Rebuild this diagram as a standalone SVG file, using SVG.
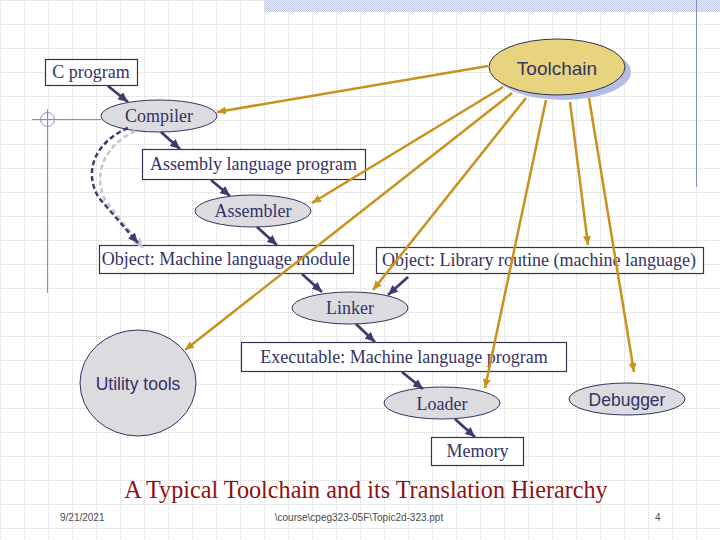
<svg xmlns="http://www.w3.org/2000/svg" width="720" height="540" viewBox="0 0 720 540">
<defs>
<pattern id="grid" width="24" height="24" patternUnits="userSpaceOnUse">
<path d="M0 0.5 H24 M0.5 0 V24" stroke="#d2d2d2" stroke-width="1" stroke-dasharray="1,1" fill="none"/>
</pattern>
<pattern id="check" width="2" height="2" patternUnits="userSpaceOnUse">
<rect width="2" height="2" fill="#eaedf6"/>
<rect width="1" height="1" fill="#c0cae4"/>
<rect x="1" y="1" width="1" height="1" fill="#c0cae4"/>
</pattern>
<marker id="an" markerUnits="userSpaceOnUse" markerWidth="12" markerHeight="10" refX="10" refY="4.5" orient="auto">
<path d="M0,0 L10,4.5 L0,9 z" fill="#3c3c70"/>
</marker>
<marker id="al" markerUnits="userSpaceOnUse" markerWidth="12" markerHeight="10" refX="10" refY="4.5" orient="auto">
<path d="M0,0 L10,4.5 L0,9 z" fill="#c2c6dc"/>
</marker>
<marker id="ag" markerUnits="userSpaceOnUse" markerWidth="11" markerHeight="10" refX="9" refY="4" orient="auto">
<path d="M0,0 L9,4 L0,8 z" fill="#c8921e"/>
</marker>
</defs>
<style>
.box{fill:#ffffff;stroke:#333355;stroke-width:1.2}
.ell{fill:#dcdce0;stroke:#333366;stroke-width:1}
.st{font-family:"Liberation Serif","Times New Roman",serif;font-size:18px;fill:#333366;text-anchor:middle}
.ss{font-family:"Liberation Sans",Arial,sans-serif;fill:#333366;text-anchor:middle}
.nv{stroke:#3c3c70;stroke-width:2.8;fill:none;marker-end:url(#an)}
.gd{stroke:#c8921e;stroke-width:2.5;fill:none;marker-end:url(#ag)}
.ft{font-family:"Liberation Sans",Arial,sans-serif;font-size:10px;fill:#4a4a4a}
.deco{stroke:#8090c0;stroke-width:1;fill:none}
</style>
<rect width="720" height="540" fill="#ffffff"/>
<rect width="720" height="540" fill="url(#grid)"/>
<rect x="264" y="0" width="456" height="12" fill="url(#check)"/>
<line class="deco" x1="696.5" y1="0" x2="696.5" y2="187"/>
<line class="deco" x1="32" y1="119.5" x2="101" y2="119.5"/>
<line class="deco" x1="47.5" y1="109" x2="47.5" y2="293"/>
<circle class="deco" cx="47.5" cy="119.5" r="7"/>

<g id="toolchain">
<ellipse cx="563" cy="72" rx="68" ry="28" fill="#b4bce8"/>
<ellipse cx="557" cy="67" rx="68" ry="28" fill="#e8d37e" stroke="#333344" stroke-width="1"/>
<text class="ss" x="557" y="75" font-size="19">Toolchain</text>
</g>
<g id="cprogram">
<rect class="box" x="45.5" y="59.5" width="92" height="26"/>
<text class="st" x="91" y="78">C program</text>
</g>
<g id="compiler">
<ellipse class="ell" cx="159" cy="116" rx="58" ry="16"/>
<text class="st" x="159" y="122">Compiler</text>
</g>
<g id="assembly">
<rect class="box" x="142.5" y="149.5" width="223" height="30"/>
<text class="st" x="253.5" y="170">Assembly language program</text>
</g>
<g id="assembler">
<ellipse class="ell" cx="253" cy="211" rx="58" ry="16"/>
<text class="st" x="253" y="217">Assembler</text>
</g>
<g id="objmodule">
<rect class="box" x="99.5" y="245.5" width="254" height="28"/>
<text class="st" x="226" y="265">Object: Machine language module</text>
</g>
<g id="objlibrary">
<rect class="box" x="376.5" y="247.5" width="327" height="26"/>
<text class="st" x="539" y="266">Object: Library routine (machine language)</text>
</g>
<g id="linker">
<ellipse class="ell" cx="350" cy="308" rx="58" ry="16"/>
<text class="st" x="350" y="314">Linker</text>
</g>
<g id="executable">
<rect class="box" x="241.5" y="342.5" width="325" height="29"/>
<text class="st" x="404" y="363">Executable: Machine language program</text>
</g>
<g id="utility">
<ellipse class="ell" cx="138" cy="383" rx="58" ry="53"/>
<text class="ss" x="138" y="390" font-size="17.5">Utility tools</text>
</g>
<g id="loader">
<ellipse class="ell" cx="442" cy="403" rx="58" ry="16"/>
<text class="st" x="442" y="410">Loader</text>
</g>
<g id="debugger">
<ellipse class="ell" cx="627" cy="399" rx="58" ry="16"/>
<text class="ss" x="627" y="406" font-size="17.5">Debugger</text>
</g>
<g id="memory">
<rect class="box" x="431.5" y="437.5" width="92" height="28"/>
<text class="st" x="477.5" y="457">Memory</text>
</g>

<g id="connectors">
<line class="nv" x1="108" y1="86" x2="128" y2="102"/>
<line class="nv" x1="161" y1="132" x2="180" y2="149"/>
<line class="nv" x1="211" y1="180" x2="230" y2="196"/>
<line class="nv" x1="257" y1="227" x2="277" y2="245"/>
<line class="nv" x1="302" y1="274" x2="322" y2="292"/>
<line class="nv" x1="408" y1="277" x2="388" y2="295"/>
<line class="nv" x1="356" y1="324" x2="375" y2="342"/>
<line class="nv" x1="402" y1="372" x2="423" y2="389"/>
<line class="nv" x1="455" y1="419" x2="475" y2="437"/>
<path d="M135,131 C106,145 92,172 105,200 L143,248" stroke="#c2c6dc" stroke-width="2.5" stroke-dasharray="5,3" fill="none" marker-end="url(#al)"/>
<path d="M128,128 C97,141 82,170 99,198 L138,243" stroke="#3c3c6e" stroke-width="2.5" stroke-dasharray="5,3" fill="none" marker-end="url(#an)"/>
<line class="gd" x1="488" y1="66" x2="217" y2="112"/>
<line class="gd" x1="503" y1="87" x2="312" y2="203"/>
<line class="gd" x1="512" y1="93" x2="185" y2="350"/>
<line class="gd" x1="526" y1="98" x2="373" y2="290"/>
<line class="gd" x1="546" y1="100" x2="485" y2="388"/>
<line class="gd" x1="570" y1="102" x2="588" y2="245"/>
<line class="gd" x1="589" y1="98" x2="634" y2="372"/>
</g>

<text x="366" y="498" font-family="'Liberation Serif','Times New Roman',serif" font-size="24.2" fill="#8f1010" text-anchor="middle">A Typical Toolchain and its Translation Hierarchy</text>
<text class="ft" x="60" y="521">9/21/2021</text>
<text class="ft" x="359" y="521" text-anchor="middle">\course\cpeg323-05F\Topic2d-323.ppt</text>
<text class="ft" x="655" y="521">4</text>
</svg>
